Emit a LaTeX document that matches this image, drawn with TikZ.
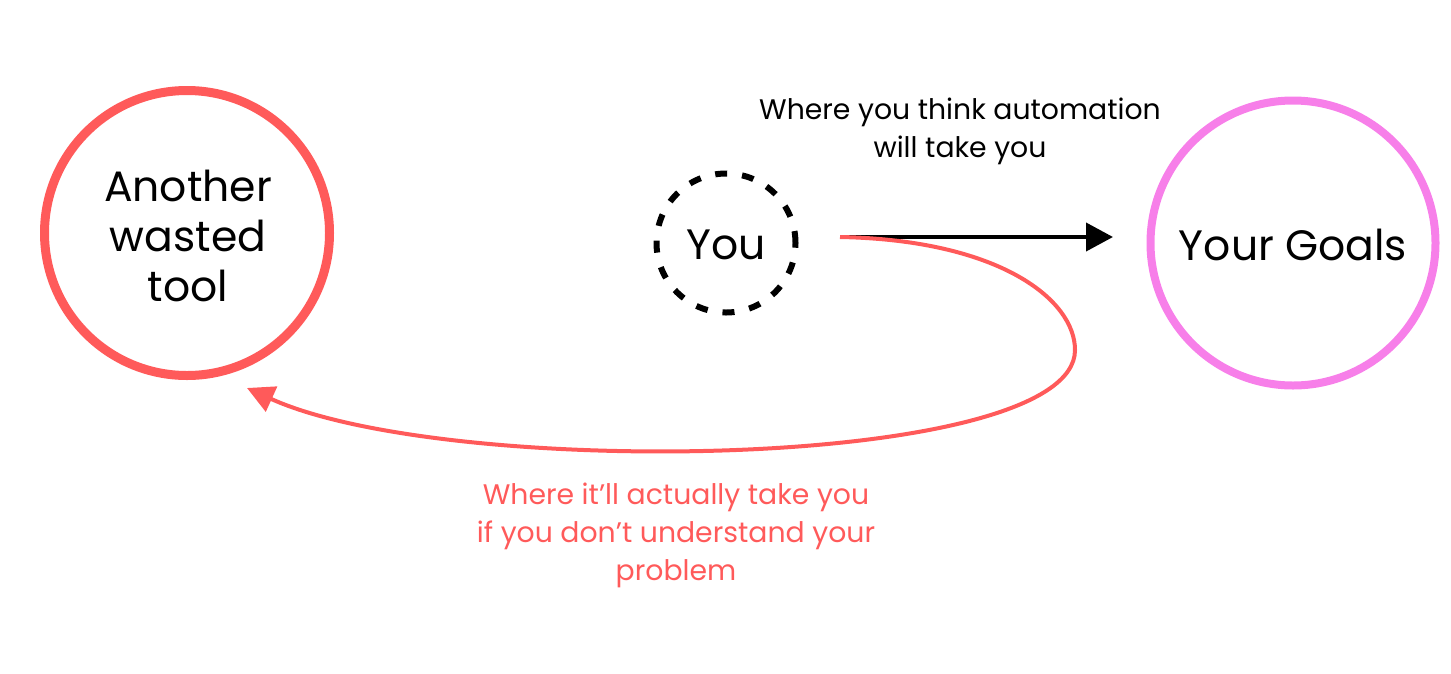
\documentclass[tikz,border=0pt]{standalone}
\usepackage{fontspec}
\setmainfont{Poppins}
\usetikzlibrary{arrows.meta}
\definecolor{myred}{HTML}{FF5A5A}
\definecolor{mypink}{HTML}{F77FE9}
\begin{document}
\begin{tikzpicture}[x=1pt,y=-1pt,
  bigtxt/.style={font=\fontsize{42.5}{50}\selectfont, align=center},
  smalltxt/.style={font=\fontsize{28.3}{38}\selectfont, align=center},
  ring/.style={circle, minimum size=285pt, inner sep=0pt}
]
\useasboundingbox (0,0) rectangle (1451,673);
\node[ring, draw=myred, line width=9pt, bigtxt] (tool) at (187,233) {};
\node[bigtxt] (tooltxt) at (188,236) {Another\\wasted\\tool};
\node[ring, draw=mypink, line width=8pt, bigtxt] (goals) at (1293,243) {};
\node[bigtxt] (goalstxt) at (1293,245) {Your Goals};
\node[circle, draw=black, line width=6pt, dash pattern=on 12pt off 15pt, minimum size=139pt, inner sep=0pt] (you) at (726,243) {};
\node[bigtxt] (youtxt) at (726,245) {You};
\coordinate (s) at (840,237);
\coordinate (t) at (1113,237);
\coordinate (e) at (247,388);
\draw[line width=4pt, -{Triangle[length=27pt,width=28pt]}] (s) -- (t);
\draw[myred, line width=4pt, -{Triangle[length=27pt,width=27pt]}] (s) .. controls (1000,240) and (1075,300) .. (1075,350) .. controls (1075,470) and (450,480) .. (e);
\node[smalltxt] (think) at (960,131) {Where you think automation\\will take you};
\node[smalltxt, text=myred] (actual) at (676,535) {Where it’ll actually take you\\if you don’t understand your\\problem};
\end{tikzpicture}
\end{document}
